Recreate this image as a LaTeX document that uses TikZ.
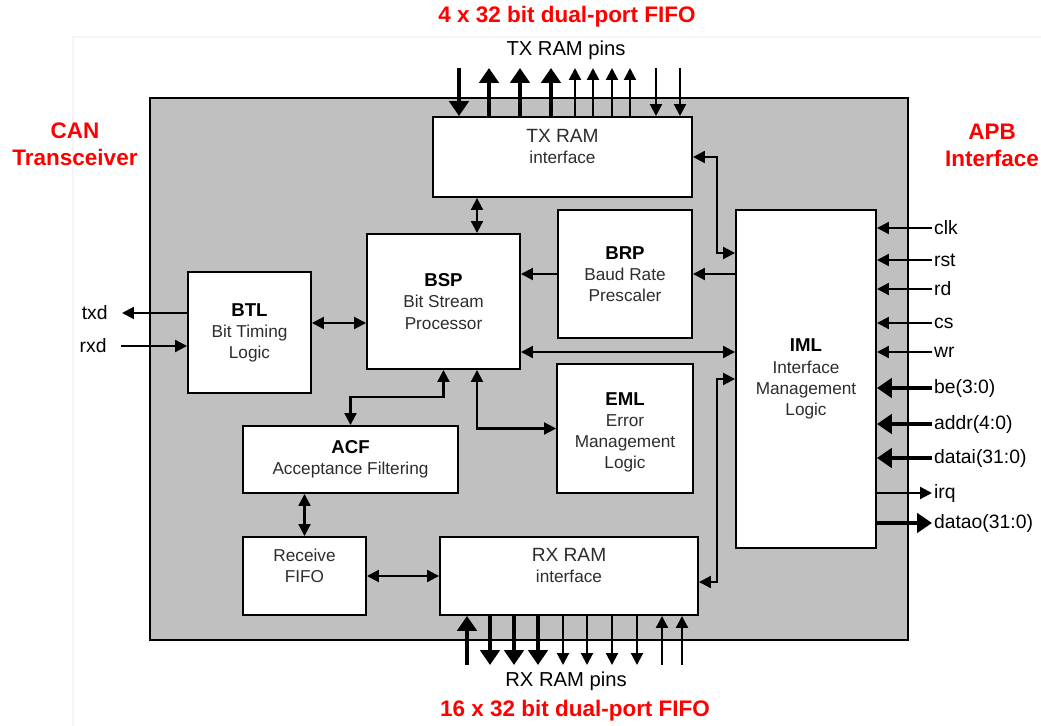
\documentclass[tikz,border=0pt]{standalone}
\usepackage{fontspec}
\setmainfont{Liberation Sans}
\usetikzlibrary{arrows.meta}

\definecolor{coregray}{RGB}{192,192,192}
\definecolor{boxtext}{RGB}{45,45,45}
\definecolor{fifored}{RGB}{255,0,0}

\newcommand{\ttl}{\fontsize{10.6}{12}\selectfont\bfseries\color{black}}

\begin{document}
\begin{tikzpicture}[x=0.02cm, y=-0.02cm,
    block/.style={rectangle, draw, line width=1.1pt, fill=white, align=center, inner sep=0pt, text=boxtext, font=\fontsize{9.8}{12}\selectfont},
    sig/.style={inner xsep=1pt, inner ysep=0pt, font=\fontsize{11}{13}\selectfont},
    pins/.style={font=\fontsize{11.5}{13}\selectfont},
    note/.style={align=center, text=fifored, font=\fontsize{12.8}{15.3}\selectfont\bfseries},
    arrow/.style={-{Triangle[length=6.8pt, width=6.8pt]}, line width=1.2pt},
    both/.style={{Triangle[length=6.8pt, width=6.8pt]}-{Triangle[length=6.8pt, width=6.8pt]}, line width=1.2pt},
    bus/.style={-{Triangle[length=8.5pt, width=11pt]}, line width=2.8pt}]

    \useasboundingbox (0,0) rectangle (1041,726);
    \draw [black!4, line width=0.6pt] (73,726) -- (73,37) -- (1041,37);

    % core
    \node [draw, line width=1.1pt, fill=coregray, minimum width=15.16cm, minimum height=10.84cm] (core) at (529,369) {};

    \node [block, minimum width=5.18cm, minimum height=1.6cm] (txram) at (562.5,157) {\fontsize{10.9}{12}\selectfont TX RAM\\interface\\\mbox{}};
    \node [block, minimum width=3.06cm, minimum height=2.7cm] (bsp) at (443.5,301.5) {{\ttl BSP}\\Bit Stream\\Processor};
    \node [block, minimum width=2.68cm, minimum height=2.56cm] (brp) at (625,274) {{\ttl BRP}\\Baud Rate\\Prescaler};
    \node [block, minimum width=2.8cm, minimum height=6.76cm] (iml) at (806,379) {{\ttl IML}\\Interface\\Management\\Logic};
    \node [block, minimum width=2.46cm, minimum height=2.42cm] (btl) at (249.5,332.5) {{\ttl BTL}\\Bit Timing\\Logic};
    \node [block, minimum width=4.3cm, minimum height=1.34cm] (acf) at (350.5,459.5) {{\ttl ACF}\\Acceptance Filtering};
    \node [block, minimum width=2.72cm, minimum height=2.58cm] (eml) at (625,428.5) {\mbox{}\\{\ttl EML}\\Error\\Management\\Logic};
    \node [block, minimum width=2.46cm, minimum height=1.56cm] (rxfifo) at (304.5,576) {Receive\\FIFO\\\mbox{}};
    \node [block, minimum width=5.16cm, minimum height=1.56cm] (rxram) at (569,576) {\fontsize{10.9}{12}\selectfont RX RAM\\interface\\\mbox{}};

    % outside labels
    \node [note] (txfifo) at (567,17) {4 x 32 bit dual-port FIFO};
    \node [note] (rxfifonote) at (575,711) {16 x 32 bit dual-port FIFO};
    \node [note] (can) at (75,144) {CAN\\Transceiver};
    \node [note] (apb) at (992,145) {APB\\Interface};
    \node [pins] (txpins) at (566,50) {TX RAM pins};
    \node [pins] (rxpins) at (566,681) {RX RAM pins};

    % CAN side
    \node [sig, anchor=east, inner xsep=8pt] (txd) at (122,313) {txd};
    \node [sig, anchor=east, inner xsep=8pt] (rxd) at (121,346) {rxd};
    \draw [arrow] (btl.west |- txd.east) -- (txd.east);
    \draw [arrow] (rxd.east) -- (rxd.east -| btl.west);

    % APB side
    \node [sig, anchor=west] (clk) at (932,228) {clk};
    \node [sig, anchor=west] (rst) at (932,260) {rst};
    \node [sig, anchor=west] (rd) at (932,289) {rd};
    \node [sig, anchor=west] (cs) at (932,323) {cs};
    \node [sig, anchor=west] (wr) at (932,352) {wr};
    \node [sig, anchor=west] (be) at (932,388) {be(3:0)};
    \node [sig, anchor=west] (addr) at (932,424) {addr(4:0)};
    \node [sig, anchor=west] (datai) at (932,458) {datai(31:0)};
    \node [sig, anchor=west] (irq) at (932,493) {irq};
    \node [sig, anchor=west] (datao) at (932,523) {datao(31:0)};
    \draw [arrow] (clk.west) -- (clk.west -| iml.east);
    \draw [arrow] (rst.west) -- (rst.west -| iml.east);
    \draw [arrow] (rd.west) -- (rd.west -| iml.east);
    \draw [arrow] (cs.west) -- (cs.west -| iml.east);
    \draw [arrow] (wr.west) -- (wr.west -| iml.east);
    \draw [bus] (be.west) -- (be.west -| iml.east);
    \draw [bus] (addr.west) -- (addr.west -| iml.east);
    \draw [bus] (datai.west) -- (datai.west -| iml.east);
    \draw [arrow] (irq.west -| iml.east) -- (irq.west);
    \draw [bus] (datao.west -| iml.east) -- (datao.west);

    % TX RAM pins
    \coordinate (tp1) at (459,68);
    \coordinate (tp2) at (489,68);
    \coordinate (tp3) at (520,68);
    \coordinate (tp4) at (551,68);
    \coordinate (tp5) at (575,68);
    \coordinate (tp6) at (593,68);
    \coordinate (tp7) at (612,68);
    \coordinate (tp8) at (630,68);
    \coordinate (tp9) at (656,68);
    \coordinate (tp10) at (680,68);
    \draw [bus] (tp1) -- (tp1 |- txram.north);
    \draw [bus] (tp2 |- txram.north) -- (tp2);
    \draw [bus] (tp3 |- txram.north) -- (tp3);
    \draw [bus] (tp4 |- txram.north) -- (tp4);
    \draw [arrow] (tp5 |- txram.north) -- (tp5);
    \draw [arrow] (tp6 |- txram.north) -- (tp6);
    \draw [arrow] (tp7 |- txram.north) -- (tp7);
    \draw [arrow] (tp8 |- txram.north) -- (tp8);
    \draw [arrow] (tp9) -- (tp9 |- txram.north);
    \draw [arrow] (tp10) -- (tp10 |- txram.north);

    % RX RAM pins
    \coordinate (rp1) at (467,665);
    \coordinate (rp2) at (490,665);
    \coordinate (rp3) at (514,665);
    \coordinate (rp4) at (538,665);
    \coordinate (rp5) at (563,665);
    \coordinate (rp6) at (587,665);
    \coordinate (rp7) at (612,665);
    \coordinate (rp8) at (637,665);
    \coordinate (rp9) at (662,665);
    \coordinate (rp10) at (682,665);
    \draw [bus] (rp1) -- (rp1 |- rxram.south);
    \draw [bus] (rp2 |- rxram.south) -- (rp2);
    \draw [bus] (rp3 |- rxram.south) -- (rp3);
    \draw [bus] (rp4 |- rxram.south) -- (rp4);
    \draw [arrow] (rp5 |- rxram.south) -- (rp5);
    \draw [arrow] (rp6 |- rxram.south) -- (rp6);
    \draw [arrow] (rp7 |- rxram.south) -- (rp7);
    \draw [arrow] (rp8 |- rxram.south) -- (rp8);
    \draw [arrow] (rp9) -- (rp9 |- rxram.south);
    \draw [arrow] (rp10) -- (rp10 |- rxram.south);

    % internal links
    \coordinate (btlrow) at (330,323);
    \coordinate (midcol) at (477,215);
    \coordinate (bsprow) at (620,352);
    \coordinate (acfrow) at (400,397);
    \coordinate (txbend) at (717,253);
    \coordinate (rxbend) at (717,582);

    \draw [both] (btlrow -| btl.east) -- (btlrow -| bsp.west);
    \draw [both] (midcol |- txram.south) -- (midcol |- bsp.north);
    \draw [arrow] (brp.west) -- (brp.west -| bsp.east);
    \draw [arrow] (iml.west |- brp.east) -- (brp.east);
    \draw [both] (txram.east) -| (txbend) -- (txbend -| iml.west);
    \draw [both] (bsprow -| bsp.east) -- (bsprow -| iml.west);
    \draw [both] (rxbend -| rxram.east) -- (rxbend) |- (iml.west);
    \draw [both] (bsp.south) |- (acfrow) -| (acf.north);
    \draw [both] (midcol |- bsp.south) |- (eml.west);
    \draw [both] (rxfifo.north) -- (rxfifo.north |- acf.south);
    \draw [both] (rxfifo.east) -- (rxfifo.east -| rxram.west);
\end{tikzpicture}
\end{document}
